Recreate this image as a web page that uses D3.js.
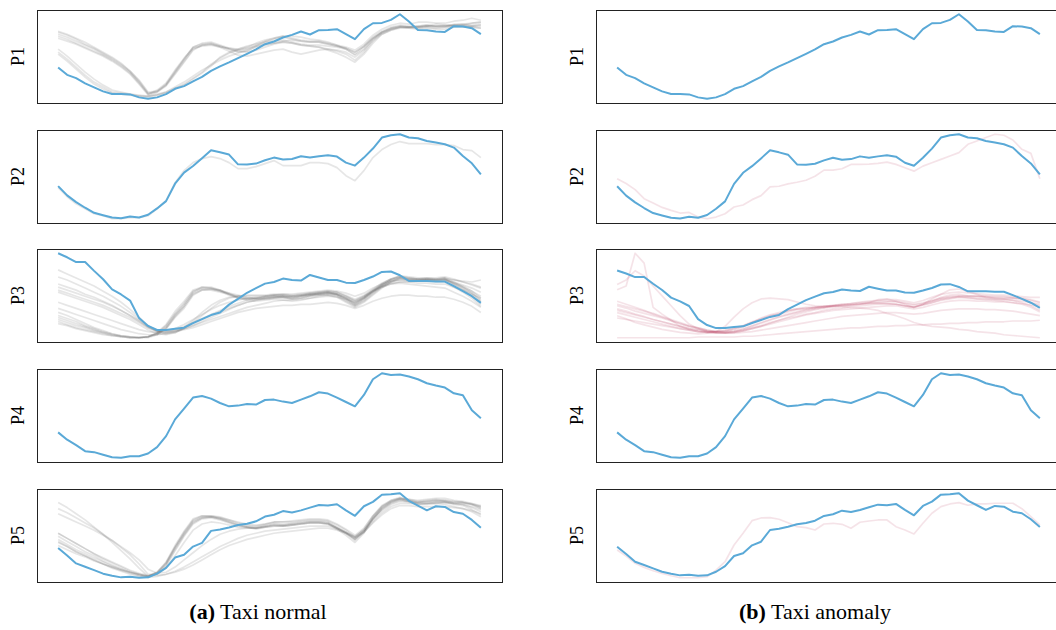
<!DOCTYPE html>
<html>
<head>
<meta charset="utf-8">
<script src="https://cdn.jsdelivr.net/npm/d3@7"></script>
<style>
  html, body { margin: 0; padding: 0; background: #fff; }
  svg { display: block; }
  .serif { font-family: "Liberation Serif", "Times New Roman", Times, serif; }
</style>
</head>
<body>
<svg id="chart" width="1056" height="630"></svg>
<script>
// Daily taxi ridership profiles: 48 half-hour slots per day.
const slots = d3.range(48);
const panelLabels = ["P1", "P2", "P3", "P4", "P5"];

// Learned prototypes (drawn in blue in both columns)
const protoP1 = [34.7,27.3,24,18.7,14.7,10.7,8,8,7.7,4.7,3.3,4.7,8,13.3,16,20.7,25.3,31.3,35.7,39.7,44,48.3,52.7,58,60.7,64.7,67.3,70.7,67.7,72,72.3,73,68,63,73,79,79.3,82.3,88,80.7,72.3,72,70.7,70.3,76,75.7,74,68];
const protoP2 = [36.6,27.3,20.6,15,10,7.6,5.3,4.6,6.3,5.3,8,14.3,21.6,39,50,56.6,64.3,72.3,70.3,68,58.3,58,59,62.3,65,63,63.6,66.3,65,66.3,67.3,66,60,57,65,74,85,87.3,88.3,85,84.3,81.6,80,78.3,75,66.6,59.3,48.3];
const protoP3 = [88.4,84.4,79.7,79.7,71,62.7,52.7,47.7,41.7,24.4,16.7,12.7,12.7,14,15,19.4,23.4,27.4,30,37.7,43.4,49.4,54,58.4,60,63.4,62,61.4,67,64.4,62,62,59.4,59,62,65.4,70,70.4,66.7,61,61,61,60.4,60.4,56,51,46,39.4];
const protoP4 = [29.7,22.4,17,11,10,7.4,5,4.4,6,6,8.7,15,26,42.7,53.4,64.4,66,63.4,59,55.7,56.4,58,57.4,62,62.4,60.4,59,62.4,65.7,69.7,68.4,64.4,60,55.7,67,82.7,88.7,87,87.4,85.4,82.7,78.7,76.4,74.4,68.7,66.7,51.7,43.7];
const protoP5 = [35.6,28.3,20.6,17.3,14,10.6,8.6,7,7.6,6.6,7,10.6,16.3,26.3,29,37,40.6,52.3,53.6,55.6,58,59.3,61.6,66.3,68,71.6,70.3,72.3,75,77.6,77,78.3,72.3,67,76.3,80.6,87.6,88,89,81.6,77,72.3,76.3,75.6,70.6,69,63,55.3];

// Normal days assigned to each prototype
const normalP1 = [
  [68,65,61,57,53,48,43,37,30,20,8,11,18,31,43,55,58,59,56,53,50,51,56,60,63,65,63,61,60,60,58,56,54,50,56,65,71,75,77,76,76,77,76,76,78,78,77,78],
  [71,68,64,60,55,50,45,39,31,21,9,10,16,28,40,52,57,58,55,51,47,46,48,50,52,53,50,48,50,52,53,52,50,45,52,62,70,74,76,75,75,76,78,77,76,77,79,80],
  [66,63,59,55,51,47,42,36,29,19,8,12,19,32,44,54,56,57,55,54,53,55,59,62,64,66,66,65,63,62,60,57,53,47,53,63,69,73,75,75,75,76,75,75,77,76,76,77],
  [64,61,58,54,50,46,41,35,28,18,7,10,17,29,41,53,57,58,56,53,51,50,52,55,58,60,59,57,56,55,52,49,45,40,48,59,68,72,75,74,73,74,73,73,75,76,75,74],
  [70,67,63,58,54,49,44,38,31,22,10,11,17,30,43,55,59,60,57,54,52,53,57,61,64,66,64,62,61,61,59,57,55,52,58,67,73,77,79,78,80,80,79,79,81,82,84,82],
  [50,43,35,27,20,15,10,9,8,6,6,8,10,14,17,23,29,36,45,50,53,56,58,60,61,62,60,58,57,57,56,55,53,48,55,64,70,74,76,75,75,76,76,77,77,77,76,76],
  [53,46,38,30,23,17,12,10,8,7,6,7,9,13,18,24,30,38,44,49,52,54,56,58,59,60,59,57,56,55,53,51,48,42,50,61,68,72,74,74,74,75,74,75,76,75,75,74],
  [48,41,33,25,18,13,9,8,7,6,5,7,10,15,20,26,32,37,42,46,49,52,55,57,59,61,62,61,60,60,58,56,54,50,56,64,70,73,75,75,76,77,76,76,77,78,79,80]
];
const normalP2 = [
  [35,26,19,14,9,7,4,4,5,5,7,14,22,40,52,60,64,66,64,60,54,54,56,59,62,57,57,57,60,60,59,55,47,42,52,65,73,78,81,79,79,79,78,78,77,73,72,65]
];
const normalP3 = [
  [23,20,17,15,12,10,8,7,6,6,6,9,15,27,36,49,53,53,52,49,45,43,43,43,44,44,43,44,46,47,48,47,42,37,42,49,56,62,65,63,63,63,62,63,58,53,47,38],
  [25,22,19,16,13,10,8,6,5,5,6,10,17,29,39,51,54,54,52,48,45,44,44,45,46,45,44,45,47,49,50,48,44,38,44,51,58,63,66,64,63,62,61,61,57,52,46,40],
  [21,18,15,13,11,9,7,6,5,5,6,8,14,25,34,47,52,53,51,49,47,45,44,44,45,46,44,46,48,48,49,47,43,37,43,50,57,61,64,62,61,62,61,62,58,54,49,41],
  [27,24,21,17,14,11,9,7,6,5,6,9,16,28,38,50,55,55,52,48,44,42,41,42,43,42,41,42,44,46,47,45,40,35,40,47,54,60,63,62,62,63,63,64,60,55,49,42],
  [19,17,14,12,10,8,7,6,5,5,5,8,14,26,36,48,52,52,50,48,46,44,44,45,46,46,45,46,47,48,49,48,44,39,45,52,58,63,66,65,64,64,63,63,59,56,51,44],
  [30,27,23,19,15,12,9,7,6,5,6,10,18,31,41,52,55,54,51,47,44,43,43,44,45,45,43,44,46,47,47,46,41,36,41,48,55,60,64,63,62,61,60,60,55,50,44,36],
  [72,68,64,60,56,51,46,40,33,25,17,12,11,13,16,20,24,28,32,36,39,42,44,46,47,48,48,49,50,51,52,51,49,46,49,54,58,61,62,61,61,62,62,62,60,57,54,50],
  [65,62,58,54,50,46,41,36,30,23,16,12,12,14,18,23,28,33,37,40,42,44,45,46,47,47,46,47,49,50,51,50,47,43,47,52,56,59,60,60,59,59,58,58,55,52,48,44],
  [58,55,52,48,45,41,37,32,27,21,15,11,10,12,15,19,23,27,31,34,37,40,42,43,44,45,45,46,47,48,49,48,45,41,45,51,56,60,62,62,62,63,63,64,62,60,58,55],
  [52,49,46,43,40,37,33,29,25,20,15,12,11,12,14,17,20,23,26,29,32,35,37,39,41,42,42,43,44,45,46,45,43,40,44,50,55,58,60,60,61,62,62,63,62,61,60,62],
  [40,37,34,31,28,25,22,19,16,13,11,10,10,11,13,15,18,21,24,27,30,32,34,35,36,37,37,38,38,39,40,39,37,34,37,41,44,46,47,47,46,46,45,45,43,40,36,30],
  [34,31,28,25,22,19,16,13,11,9,8,8,9,11,14,17,21,25,29,33,37,40,42,44,45,46,46,47,48,49,50,49,46,42,46,51,55,58,59,58,57,56,55,54,50,46,41,35],
  [55,52,49,46,43,40,36,32,27,22,16,11,9,10,14,20,27,34,40,44,46,47,47,47,48,48,47,48,49,50,51,50,46,41,46,53,59,63,65,64,63,63,62,62,59,55,51,46],
  [50,47,44,41,38,35,31,27,23,18,13,9,8,10,15,22,30,37,42,45,46,46,46,46,47,47,46,47,48,49,50,48,44,39,44,51,57,62,64,63,63,64,64,65,63,60,57,54]
];
const normalP4 = [];
const normalP5 = [
  [44,39,34,30,26,22,18,15,12,10,8,12,21,37,51,63,67,67,65,62,59,57,56,58,60,59,60,61,62,62,61,56,51,44,52,66,76,82,85,82,80,81,82,81,79,78,75,71],
  [47,42,37,32,28,23,19,15,12,9,7,11,20,36,50,62,66,66,64,61,58,56,54,56,58,57,58,59,60,60,59,54,48,41,50,64,74,80,83,81,79,79,80,80,78,77,73,68],
  [41,37,32,28,24,20,17,14,11,9,8,12,22,38,52,64,67,67,66,63,60,58,57,59,61,61,61,62,63,63,62,58,53,46,54,67,77,82,84,83,81,82,83,82,80,80,78,74],
  [38,34,30,27,23,20,17,14,12,10,8,12,21,36,49,61,65,66,64,61,58,56,55,57,58,58,59,60,61,61,60,55,50,43,51,64,74,80,83,81,78,78,79,78,76,74,71,66],
  [50,45,40,35,30,25,21,17,13,10,8,11,19,34,48,60,65,66,65,63,61,59,58,59,61,61,62,63,64,64,63,59,54,48,55,67,76,81,84,83,82,83,84,84,82,81,79,76],
  [80,75,69,63,56,49,41,33,25,16,8,10,18,33,47,59,64,65,63,60,57,56,55,57,59,58,59,60,61,61,60,55,50,44,52,65,75,81,84,82,80,81,82,82,81,80,79,77],
  [74,70,65,60,55,49,43,36,29,20,10,10,16,28,41,53,59,61,60,58,56,55,55,56,57,57,58,59,60,60,59,55,51,46,53,64,73,79,82,81,80,80,81,81,80,80,78,75],
  [69,65,61,57,53,48,43,37,31,24,15,11,12,17,24,31,38,44,49,52,54,55,55,56,57,57,58,59,60,60,59,55,51,47,53,63,72,78,81,80,79,79,80,80,79,79,78,76],
  [50,45,40,35,30,26,22,18,14,11,9,9,10,12,15,19,24,29,34,38,41,44,46,48,50,51,52,53,54,55,55,53,50,46,51,60,68,74,77,77,76,76,76,76,75,74,72,69],
  [42,37,32,28,24,20,16,13,10,8,7,8,10,13,17,22,27,32,37,41,45,48,50,52,53,54,55,56,57,57,57,54,50,45,51,61,70,76,79,79,78,79,79,80,79,78,76,73]
];

// Anomalous days assigned to each prototype
const anomalyP1 = [];
const anomalyP2 = [
  [44,39.3,33.3,24.3,20,15.6,12.6,10,10.6,6,4.3,6,9.3,16,18,23.3,27.3,36,36.6,39,40.6,42.6,46.6,52.6,52.6,54,58.3,58.3,58.6,59.3,60.6,58.3,55,51.6,56.6,60,63.3,66.6,70,78.3,81.6,85,88.3,87.3,82.6,73.3,69.3,44]
];
const anomalyP3 = [
  [63,68,111,98,40,31,23,15,11,8,7,8,10,13,16,21,25,29,31,36,38,40,40,42,42,43,44,45,46,46,45,44,42,40,44,48,53,56,57,55,54,53,52,51,49,46,42,36],
  [70,76,88,81,68,55,42,29,18,12,8,8,9,12,15,20,24,28,31,34,37,38,40,41,42,42,43,44,45,45,45,44,42,40,43,46,50,52,54,53,51,50,49,48,46,44,40,34],
  [0,0,0,0,0,0,0,0,0,1,1,1,1,1,2,2,3,4,5,6,7,8,9,10,11,12,13,13,14,15,15,16,16,17,17,18,18,19,19,20,20,21,21,21,22,22,22,23],
  [42,39,35,32,29,26,22,19,15,13,10,8,8,11,15,20,26,30,33,36,38,39,40,40,41,41,40,39,38,36,32,29,25,20,17,15,14,13,11,10,8,7,6,4,3,2,1,0],
  [29,25,20,17,14,11,9,7,6,5,6,8,15,27,38,46,51,52,51,50,47,44,42,41,42,43,43,44,46,50,51,48,44,40,44,51,57,63,64,61,57,53,51,51,52,51,46,42],
  [48,44,40,36,31,27,23,18,15,12,9,8,7,8,10,13,16,20,23,26,28,31,33,36,38,39,41,42,43,44,44,44,42,41,43,46,49,51,53,52,51,51,50,50,49,48,46,44],
  [38,35,31,28,24,21,18,15,12,10,8,7,6,6,7,8,10,12,14,16,18,20,22,24,26,28,29,30,31,32,33,33,32,31,32,34,36,37,38,38,38,37,37,36,35,33,31,29],
  [33,30,27,24,21,18,15,12,10,8,7,6,6,7,9,12,15,18,21,24,27,30,32,34,36,37,38,39,40,41,42,42,40,38,40,43,46,48,49,49,48,48,47,47,46,45,43,41],
  [44,41,38,35,32,28,24,20,16,13,10,8,8,9,12,16,20,24,28,31,34,37,39,41,43,44,45,46,47,48,48,48,46,44,46,49,52,54,55,55,55,55,54,54,53,52,50,47],
  [26,24,22,20,18,16,14,12,10,8,7,6,6,7,9,12,15,19,23,27,31,34,37,39,41,42,43,44,45,46,47,47,45,43,45,48,51,53,54,54,54,54,53,53,52,51,49,46],
  [36,33,30,27,24,21,18,15,12,10,8,7,7,8,11,15,19,23,27,30,33,36,38,40,42,44,45,47,48,49,50,50,48,46,49,53,57,59,60,59,58,57,56,56,55,54,53,53]
];
const anomalyP4 = [];
const anomalyP5 = [
  [32.3,26.3,19,15,11.6,9,6.6,4.6,4.6,4.6,5.6,12.3,20.6,37.3,49,61.6,64.3,64.6,63,59.6,55.6,54.6,52.3,58.3,59,58,54,60,61.3,62.3,62.3,55.6,52.3,48.3,59,69,75.6,78.3,79.6,77,78.3,78.3,79,79,79,73.6,65.6,57.3]
];

const captionTags = ["(a)", "(b)"];
const captionTexts = [" Taxi normal", " Taxi anomaly"];

const prototypes = [protoP1, protoP2, protoP3, protoP4, protoP5];
const columns = [
  { members: [normalP1, normalP2, normalP3, normalP4, normalP5], color: "#555555", opacity: 0.15 },
  { members: [anomalyP1, anomalyP2, anomalyP3, anomalyP4, anomalyP5], color: "#b8385c", opacity: 0.14 }
];

// Layout
const panelW = 465, panelH = 93;
const colX = [37, 596];
const rowY = [10, 130, 249, 369, 489];
const labelX = [24, 583];
const captionX = [258, 815];
const captionY = 619;

const svg = d3.select("#chart");
svg.append("rect").attr("width", 1056).attr("height", 630).attr("fill", "#fff");

const defs = svg.append("defs");

columns.forEach((col, c) => {
  prototypes.forEach((proto, r) => {
    const x0 = colX[c], y0 = rowY[r];
    const members = col.members[r];

    const x = d3.scaleLinear()
      .domain([-0.05 * 47, 47 * 1.05])
      .range([x0, x0 + panelW]);

    const all = [proto, ...members].flat();
    const [lo, hi] = d3.extent(all);
    const pad = (hi - lo) * 0.05;
    const y = d3.scaleLinear()
      .domain([lo - pad, hi + pad])
      .range([y0 + panelH, y0]);

    const line = d3.line()
      .x((d, i) => x(slots[i]))
      .y(d => y(d));

    const clipId = `clip-${c}-${r}`;
    defs.append("clipPath").attr("id", clipId)
      .append("rect")
      .attr("x", x0).attr("y", y0)
      .attr("width", panelW).attr("height", panelH);

    const g = svg.append("g").attr("clip-path", `url(#${clipId})`);

    g.selectAll("path.member")
      .data(members)
      .join("path")
      .attr("class", "member")
      .attr("d", line)
      .attr("fill", "none")
      .attr("stroke", col.color)
      .attr("stroke-opacity", col.opacity)
      .attr("stroke-width", 1.7)
      .attr("stroke-linejoin", "round");

    g.append("path")
      .attr("d", line(proto))
      .attr("fill", "none")
      .attr("stroke", "#5aa9d7")
      .attr("stroke-width", 2)
      .attr("stroke-linejoin", "round");

    svg.append("rect")
      .attr("x", x0 + 0.5).attr("y", y0 + 0.5)
      .attr("width", panelW).attr("height", panelH)
      .attr("fill", "none")
      .attr("stroke", "#222")
      .attr("stroke-width", 1);

    svg.append("text")
      .attr("class", "serif")
      .attr("transform", `translate(${labelX[c]},${y0 + panelH / 2}) rotate(-90)`)
      .attr("text-anchor", "middle")
      .attr("font-size", 18)
      .attr("fill", "#000")
      .text(panelLabels[r]);
  });

  const cap = svg.append("text")
    .attr("class", "serif")
    .attr("x", captionX[c]).attr("y", captionY)
    .attr("text-anchor", "middle")
    .attr("font-size", 22)
    .attr("fill", "#000");
  cap.append("tspan").attr("font-weight", "bold").text(captionTags[c]);
  cap.append("tspan").text(captionTexts[c]);
});
</script>
</body>
</html>
